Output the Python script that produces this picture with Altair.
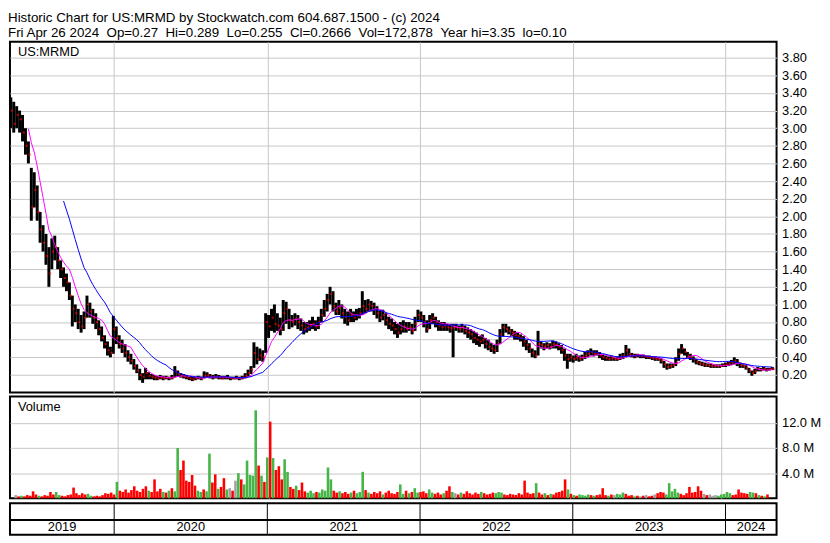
import altair as alt
import pandas as pd

FONT = "Liberation Sans"
GRID = "#c6c6c6"
GREEN = "#46b446"
RED = "#ff0000"
GRAY = "#a0a0a0"
PINK = "#ff00ff"
BLUE = "#0000ff"

title_lines = [
    "Historic Chart for US:MRMD by Stockwatch.com 604.687.1500 - (c) 2024",
    "Fri Apr 26 2024\u00a0\u00a0Op=0.27\u00a0\u00a0Hi=0.289\u00a0\u00a0Lo=0.255\u00a0\u00a0Cl=0.2666\u00a0\u00a0Vol=172,878\u00a0\u00a0Year hi=3.35\u00a0\u00a0lo=0.10",
]
symbol = "US:MRMD"
volume_label = "Volume"

first_week = "2019-04-29"

closes = [
    3.20, 3.05, 3.15, 3.10, 2.95, 2.80, 2.70, 2.10, 2.30, 2.05,
    1.85, 1.70, 1.55, 1.35, 1.60, 1.65, 1.50, 1.40, 1.30, 1.25,
    1.10, 0.95, 0.90, 0.80, 0.75, 0.85, 1.00, 0.92, 0.85, 0.80,
    0.72, 0.62, 0.55, 0.48, 0.45, 0.72, 0.62, 0.55, 0.50, 0.45,
    0.40, 0.36, 0.30, 0.25, 0.20, 0.18, 0.22, 0.19, 0.18, 0.17,
    0.16, 0.17, 0.16, 0.17, 0.16, 0.17, 0.24, 0.21, 0.19, 0.18,
    0.17, 0.16, 0.15, 0.16, 0.17, 0.16, 0.19, 0.20, 0.18, 0.17,
    0.18, 0.17, 0.16, 0.17, 0.17, 0.16, 0.16, 0.17, 0.16, 0.17,
    0.19, 0.22, 0.26, 0.45, 0.38, 0.42, 0.40, 0.80, 0.75, 0.85,
    0.78, 0.76, 0.72, 0.90, 0.95, 0.82, 0.80, 0.84, 0.80, 0.76,
    0.72, 0.74, 0.76, 0.78, 0.75, 0.80, 0.88, 0.95, 1.05, 1.12,
    0.98, 0.92, 0.96, 0.90, 0.86, 0.82, 0.88, 0.85, 0.88, 0.90,
    0.98, 0.95, 1.00, 0.98, 0.94, 0.90, 0.85, 0.88, 0.82, 0.78,
    0.76, 0.72, 0.68, 0.72, 0.75, 0.72, 0.74, 0.70, 0.78, 0.88,
    0.85, 0.80, 0.72, 0.82, 0.85, 0.80, 0.76, 0.74, 0.76, 0.74,
    0.73, 0.74, 0.74, 0.72, 0.74, 0.70, 0.68, 0.66, 0.62, 0.60,
    0.58, 0.60, 0.55, 0.52, 0.50, 0.48, 0.55, 0.66, 0.74, 0.72,
    0.70, 0.68, 0.65, 0.64, 0.62, 0.58, 0.54, 0.50, 0.45, 0.42,
    0.55, 0.54, 0.52, 0.54, 0.52, 0.55, 0.54, 0.52, 0.48, 0.42,
    0.38, 0.40, 0.38, 0.40, 0.38, 0.40, 0.42, 0.44, 0.46, 0.44,
    0.45, 0.42, 0.40, 0.39, 0.38, 0.39, 0.38, 0.38, 0.40, 0.42,
    0.48, 0.44, 0.42, 0.41, 0.42, 0.41, 0.41, 0.40, 0.40, 0.39,
    0.38, 0.38, 0.36, 0.32, 0.29, 0.30, 0.31, 0.34, 0.44, 0.50,
    0.46, 0.42, 0.40, 0.38, 0.35, 0.33, 0.32, 0.31, 0.31, 0.30,
    0.30, 0.30, 0.30, 0.31, 0.32, 0.33, 0.34, 0.36, 0.34, 0.31,
    0.30, 0.28, 0.25, 0.22, 0.24, 0.27, 0.26, 0.27, 0.26, 0.27,
    0.2666,
]

highs = [
    3.35, 3.30, 3.25, 3.20, 3.15, 3.00, 2.85, 2.55, 2.50, 2.35,
    2.05, 1.90, 1.80, 1.65, 1.75, 1.78, 1.65, 1.50, 1.42, 1.35,
    1.25, 1.10, 1.00, 0.95, 0.88, 0.92, 1.10, 1.02, 0.95, 0.90,
    0.82, 0.75, 0.65, 0.58, 0.52, 0.87, 0.75, 0.65, 0.60, 0.55,
    0.48, 0.44, 0.38, 0.32, 0.27, 0.22, 0.28, 0.23, 0.21, 0.20,
    0.19, 0.20, 0.19, 0.19, 0.18, 0.20, 0.30, 0.25, 0.22, 0.21,
    0.20, 0.18, 0.18, 0.18, 0.19, 0.18, 0.24, 0.23, 0.21, 0.20,
    0.21, 0.20, 0.19, 0.19, 0.20, 0.18, 0.18, 0.19, 0.18, 0.19,
    0.22, 0.26, 0.30, 0.57, 0.52, 0.50, 0.48, 0.90, 0.88, 0.95,
    1.00, 0.90, 0.85, 1.05, 1.03, 0.95, 0.88, 0.90, 0.88, 0.84,
    0.80, 0.80, 0.82, 0.86, 0.82, 0.86, 0.95, 1.05, 1.12, 1.20,
    1.15, 1.02, 1.05, 1.00, 0.95, 0.92, 0.95, 0.92, 0.95, 0.96,
    1.15, 1.05, 1.06, 1.04, 1.02, 0.98, 0.93, 0.94, 0.90, 0.86,
    0.84, 0.80, 0.78, 0.80, 0.82, 0.80, 0.80, 0.78, 0.86, 0.94,
    0.92, 0.88, 0.82, 0.88, 0.90, 0.86, 0.82, 0.80, 0.80, 0.78,
    0.78, 0.78, 0.78, 0.76, 0.78, 0.76, 0.74, 0.72, 0.70, 0.68,
    0.64, 0.66, 0.62, 0.60, 0.56, 0.54, 0.60, 0.72, 0.78, 0.78,
    0.75, 0.72, 0.70, 0.68, 0.66, 0.64, 0.60, 0.56, 0.50, 0.48,
    0.70, 0.58, 0.56, 0.57, 0.56, 0.59, 0.58, 0.56, 0.54, 0.50,
    0.44, 0.44, 0.42, 0.44, 0.42, 0.43, 0.46, 0.48, 0.50, 0.48,
    0.48, 0.46, 0.43, 0.42, 0.41, 0.42, 0.40, 0.41, 0.44, 0.45,
    0.54, 0.50, 0.45, 0.44, 0.44, 0.43, 0.43, 0.42, 0.42, 0.41,
    0.41, 0.40, 0.39, 0.36, 0.33, 0.33, 0.33, 0.40, 0.50, 0.55,
    0.50, 0.46, 0.44, 0.41, 0.38, 0.36, 0.35, 0.34, 0.33, 0.33,
    0.32, 0.32, 0.32, 0.33, 0.34, 0.35, 0.37, 0.40, 0.38, 0.34,
    0.32, 0.31, 0.28, 0.25, 0.27, 0.29, 0.28, 0.29, 0.28, 0.28,
    0.289,
]

lows = [
    3.00, 2.95, 3.00, 2.95, 2.85, 2.70, 2.60, 1.95, 2.10, 1.95,
    1.70, 1.60, 1.45, 1.20, 1.40, 1.50, 1.40, 1.30, 1.20, 1.15,
    1.05, 0.75, 0.80, 0.72, 0.68, 0.72, 0.85, 0.85, 0.78, 0.72,
    0.65, 0.58, 0.50, 0.42, 0.40, 0.44, 0.55, 0.50, 0.45, 0.40,
    0.35, 0.32, 0.26, 0.22, 0.14, 0.11, 0.15, 0.15, 0.15, 0.14,
    0.14, 0.15, 0.14, 0.15, 0.14, 0.15, 0.17, 0.18, 0.17, 0.16,
    0.15, 0.14, 0.13, 0.14, 0.15, 0.14, 0.16, 0.17, 0.16, 0.15,
    0.16, 0.15, 0.15, 0.15, 0.15, 0.14, 0.15, 0.15, 0.14, 0.15,
    0.16, 0.18, 0.21, 0.28, 0.32, 0.36, 0.35, 0.45, 0.62, 0.70,
    0.68, 0.70, 0.65, 0.70, 0.78, 0.72, 0.74, 0.76, 0.72, 0.70,
    0.66, 0.68, 0.70, 0.72, 0.70, 0.72, 0.80, 0.86, 0.92, 1.00,
    0.92, 0.88, 0.88, 0.84, 0.78, 0.76, 0.80, 0.80, 0.82, 0.84,
    0.88, 0.90, 0.92, 0.92, 0.88, 0.84, 0.80, 0.82, 0.76, 0.72,
    0.70, 0.66, 0.62, 0.66, 0.68, 0.68, 0.70, 0.66, 0.70, 0.80,
    0.80, 0.74, 0.68, 0.72, 0.78, 0.74, 0.70, 0.70, 0.70, 0.70,
    0.68, 0.40, 0.70, 0.68, 0.68, 0.66, 0.62, 0.60, 0.56, 0.54,
    0.52, 0.55, 0.50, 0.48, 0.46, 0.44, 0.46, 0.55, 0.64, 0.68,
    0.66, 0.64, 0.60, 0.60, 0.58, 0.52, 0.48, 0.45, 0.40, 0.39,
    0.42, 0.50, 0.48, 0.50, 0.49, 0.50, 0.50, 0.48, 0.44, 0.36,
    0.27, 0.35, 0.34, 0.36, 0.35, 0.36, 0.38, 0.40, 0.42, 0.41,
    0.42, 0.39, 0.37, 0.36, 0.36, 0.36, 0.36, 0.36, 0.37, 0.38,
    0.40, 0.41, 0.40, 0.39, 0.40, 0.39, 0.39, 0.38, 0.38, 0.37,
    0.36, 0.36, 0.33, 0.28, 0.26, 0.27, 0.28, 0.30, 0.36, 0.44,
    0.42, 0.39, 0.37, 0.34, 0.32, 0.31, 0.30, 0.29, 0.29, 0.28,
    0.28, 0.28, 0.28, 0.29, 0.29, 0.30, 0.31, 0.32, 0.30, 0.28,
    0.28, 0.26, 0.22, 0.19, 0.21, 0.24, 0.24, 0.25, 0.24, 0.25,
    0.255,
]

volumes_m = [
    0.5, 0.3, 0.4, 0.3, 0.5, 0.4, 1.1, 0.6, 0.4, 0.3,
    0.5, 0.4, 1.0, 0.6, 1.0, 0.5, 0.4, 0.3, 0.5, 0.6,
    1.7, 0.8, 0.5, 0.8, 0.6, 0.7, 0.4, 0.3, 0.4, 0.3,
    0.5, 0.8, 0.7, 0.9, 0.6, 2.6, 1.2, 1.0, 1.4, 0.9,
    1.3, 1.9, 1.2, 1.0, 1.5, 1.9, 1.2, 1.0, 3.0, 1.1,
    1.5, 1.0, 0.9, 1.2, 1.6, 1.1, 8.0, 4.5, 6.0, 2.8,
    2.6, 3.7, 2.0, 1.2, 1.0, 1.4, 1.1, 7.1, 2.5, 3.8,
    1.5, 1.8, 3.2, 1.4, 1.6, 1.2, 2.8, 4.0, 3.0, 2.2,
    6.0, 3.7, 3.6, 14.0, 5.2, 3.6, 2.6, 6.5, 12.2, 6.4,
    4.5, 5.1, 3.0, 6.2, 4.2, 1.8, 1.5, 2.0, 1.3, 2.5,
    1.1, 0.9, 1.2, 0.8, 1.0, 0.9, 1.4, 1.2, 4.9, 3.0,
    1.2, 0.9, 1.1, 0.8, 1.0, 0.7, 0.9, 1.2, 0.8, 1.0,
    4.2, 1.3, 0.9, 0.7, 1.0, 0.8, 1.1, 0.6, 0.9, 1.2,
    0.8, 0.7, 1.0, 2.2, 0.7, 1.2, 0.8, 1.0, 1.6, 0.9,
    1.0, 1.1, 0.8, 1.4, 0.9, 0.7, 0.9, 0.6, 0.8, 1.2,
    1.9, 1.0, 0.8, 0.6, 0.9, 0.7, 1.1, 0.8, 0.6, 0.9,
    0.7, 1.0, 0.8, 0.6, 0.7, 0.9, 0.8, 1.0, 0.9, 0.6,
    0.5, 0.7, 0.6, 0.5, 0.8, 0.6, 2.8, 0.9, 0.7, 0.8,
    2.4, 0.9, 0.6, 0.8, 0.5, 0.7, 0.6, 0.9, 1.0, 1.2,
    3.0, 1.4, 0.7, 0.5, 0.4, 0.6, 0.5, 0.4, 0.6, 0.5,
    0.4, 0.5, 0.6, 1.6, 0.5, 0.4, 0.6, 0.5, 0.7, 0.6,
    0.9, 0.7, 0.4, 0.5, 0.3, 0.4, 0.3, 0.4, 0.5, 0.3,
    0.4, 0.6, 0.8, 1.0, 0.9, 0.6, 2.4, 1.1, 1.5, 0.9,
    0.7, 0.5, 0.8, 1.8, 0.9, 1.0, 1.9, 1.2, 0.7, 0.5,
    0.6, 0.4, 0.5, 0.4, 0.6, 0.7, 1.0, 0.8, 0.5, 0.6,
    1.4, 0.9, 0.8, 0.7, 1.0, 0.9, 0.8, 0.5, 0.4, 0.3,
    0.6,
]

price_ticks = [0.2, 0.4, 0.6, 0.8, 1.0, 1.2, 1.4, 1.6, 1.8, 2.0, 2.2, 2.4,
               2.6, 2.8, 3.0, 3.2, 3.4, 3.6, 3.8]
volume_ticks = [4, 8, 12]
year_labels = ["2019", "2020", "2021", "2022", "2023", "2024"]
year_seg_start = ["2019-04-27", "2020-01-01", "2021-01-01", "2022-01-01", "2023-01-01", "2024-01-01"]
year_seg_end = ["2020-01-01", "2021-01-01", "2022-01-01", "2023-01-01", "2024-01-01", "2024-05-02"]
year_bounds = [2020, 2021, 2022, 2023, 2024]

# ---- layout
P_W = 776
P_H = 355
V_H = 103
A_H = 32

df = pd.DataFrame({
    "date": pd.date_range(first_week, periods=len(closes), freq="7D"),
    "high": highs,
    "low": lows,
    "close": closes,
    "vol": volumes_m,
})

x_scale = alt.Scale(domain=[alt.DateTime(year=2019, month=4, date=27),
                            alt.DateTime(year=2024, month=5, date=2)])
grid_x_axis = alt.Axis(values=[alt.DateTime(year=y, month=1, date=1) for y in year_bounds],
                       grid=True, gridColor=GRID, gridWidth=1, labels=False, ticks=False,
                       domain=False, title=None)
X = alt.X("date:T", scale=x_scale, axis=grid_x_axis)

price_y_scale = alt.Scale(domain=[0, 3.98], nice=False, zero=False)
price_axis = alt.Axis(orient="right", values=price_ticks, format=".2f", grid=True,
                      gridColor=GRID, ticks=False, domain=False, labelPadding=5,
                      title=None)

base = alt.Chart(df)

bars = base.mark_rule(color="black", strokeWidth=3).encode(
    x=X, y=alt.Y("low:Q", scale=price_y_scale, axis=price_axis), y2="high:Q")

close_ticks = base.mark_tick(color=RED, orient="horizontal", size=2.2, thickness=2,
                             xOffset=1.2).encode(
    x=X, y=alt.Y("close:Q", scale=price_y_scale, axis=price_axis))

ma_short = base.transform_window(
    ma="mean(close)", n="count()", frame=[-6, 0], sort=[alt.SortField("date")]
).transform_filter("datum.n >= 7").mark_line(color=PINK, strokeWidth=1).encode(
    x=X, y=alt.Y("ma:Q", scale=price_y_scale, axis=price_axis))

ma_long = base.transform_window(
    ma="mean(close)", n="count()", frame=[-18, 0], sort=[alt.SortField("date")]
).transform_filter("datum.n >= 19").mark_line(color=BLUE, strokeWidth=1).encode(
    x=X, y=alt.Y("ma:Q", scale=price_y_scale, axis=price_axis))

sym_text = alt.Chart(pd.DataFrame({"t": [symbol]})).mark_text(
    align="left", baseline="middle", fontSize=13, font=FONT, color="black"
).encode(x=alt.value(8), y=alt.value(10), text="t:N")

price = alt.layer(bars, close_ticks, ma_short, ma_long, sym_text).properties(
    width=P_W, height=P_H)

vol_axis = alt.Axis(orient="right", values=volume_ticks, grid=True, gridColor=GRID,
                    ticks=False, domain=False, labelPadding=5, title=None,
                    labelExpr="format(datum.value, '.1f') + ' M'")
vol_bars = base.transform_window(
    prev="lag(close)", sort=[alt.SortField("date")]
).transform_calculate(
    dirn="datum.prev == null ? 'flat' : (datum.close > datum.prev ? 'up' : (datum.close < datum.prev ? 'down' : 'flat'))"
).mark_bar(width=2.6).encode(
    x=X,
    y=alt.Y("vol:Q", scale=alt.Scale(domain=[0, 16.2], nice=False), axis=vol_axis),
    color=alt.Color("dirn:N", scale=alt.Scale(domain=["up", "down", "flat"],
                                              range=[GREEN, RED, GRAY]), legend=None),
)
vol_text = alt.Chart(pd.DataFrame({"t": [volume_label]})).mark_text(
    align="left", baseline="middle", fontSize=13, font=FONT, color="black"
).encode(x=alt.value(8), y=alt.value(11), text="t:N")

volume = alt.layer(vol_bars, vol_text).properties(width=P_W, height=V_H)

years_df = pd.DataFrame({"label": year_labels, "s": year_seg_start, "e": year_seg_end})
dividers = alt.Chart(years_df).transform_filter("datum.label != '2019'").mark_rule(
    color="black", strokeWidth=1).encode(
    x=alt.X("s:T", scale=x_scale, axis=None), y=alt.value(0), y2=alt.value(A_H))
year_text = alt.Chart(years_df).transform_calculate(
    mid="(time(toDate(datum.s)) + time(toDate(datum.e))) / 2"
).mark_text(fontSize=13, font=FONT, color="black", baseline="middle").encode(
    x=alt.X("mid:T", scale=x_scale, axis=None), y=alt.value(24.5), text="label:N")
mid_line = alt.Chart(years_df).mark_rule(color="black", strokeWidth=2).encode(
    x=alt.value(0), x2=alt.value(P_W), y=alt.value(17))

axis_panel = alt.layer(dividers, mid_line, year_text).properties(width=P_W, height=A_H)

chart = alt.vconcat(price, volume, axis_panel, spacing=2).properties(
    title=alt.Title(text=title_lines, anchor="start", fontSize=13.5, font=FONT,
                    fontWeight="normal", color="black", lineHeight=15.5, offset=1,
                    baseline="top"),
    padding=0,
).configure_view(stroke="black", strokeWidth=2).configure_axis(
    labelFont=FONT, labelFontSize=13, labelColor="black"
)

chart.save("out.html", embed_options={"renderer": "svg", "actions": False})
